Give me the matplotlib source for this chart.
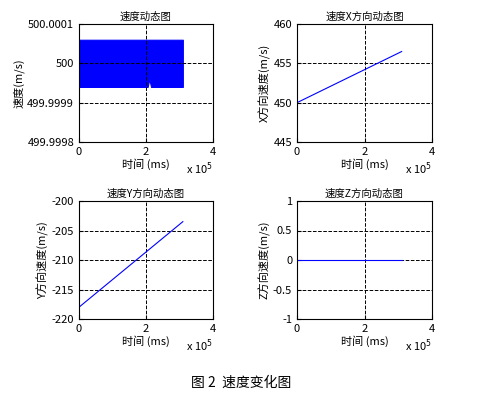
import matplotlib
matplotlib.use("Agg")
import matplotlib.pyplot as plt

plt.rcParams["font.family"] = ["Noto Sans CJK SC", "DejaVu Sans"]
plt.rcParams["axes.unicode_minus"] = False

# data (x in units of 1e5 ms)
t_end = [0.0, 3.1]
vx = [450.0, 456.5]
vy = [-218.0, -203.5]
vz = [0.0, 0.0]
# speed envelope of the noisy band
band_t = [0.0, 2.05, 2.1, 2.15, 3.1]
band_hi = [500.00006, 500.00006, 500.00006, 500.00006, 500.00006]
band_lo = [499.99994, 499.99994, 499.99996, 499.99994, 499.99994]

fig = plt.figure(figsize=(4.83, 4.07), dpi=100)
W, H = 483, 407


def make_ax(x0, y0, x1, y1):
    return fig.add_axes([x0 / W, 1 - y1 / H, (x1 - x0) / W, (y1 - y0) / H])


def style(ax, title, ylabel, yticks, ylim, ylabels=None):
    ax.set_xlim(0, 4)
    ax.set_xticks([0, 2, 4])
    ax.set_ylim(*ylim)
    ax.set_yticks(yticks)
    if ylabels:
        ax.set_yticklabels(ylabels)
    ax.tick_params(labelsize=8, direction="in", length=3)
    ax.grid(True, color="black", linestyle="--", linewidth=0.7)
    ax.set_title(title, fontsize=7.5, pad=3)
    ax.set_ylabel(ylabel, fontsize=8, labelpad=2)
    ax.set_xlabel("时间 (ms)", fontsize=8, labelpad=1)
    ax.text(0.8, -0.16, "x 10$^5$", transform=ax.transAxes, fontsize=8,
            va="top", ha="left")


ax1 = make_ax(79, 24, 213, 142)
ax1.fill_between(band_t, band_lo, band_hi, color="#0000ff", linewidth=0.8,
                 edgecolor="#0000ff")
style(ax1, "速度动态图", "速度(m/s)",
      [499.9998, 499.9999, 500.0, 500.0001], (499.9998, 500.0001),
      ["499.9998", "499.9999", "500", "500.0001"])

ax2 = make_ax(297, 24, 432, 142)
ax2.plot(t_end, vx, color="#0000ff", linewidth=0.8)
style(ax2, "速度X方向动态图", "X方向速度(m/s)", [445, 450, 455, 460], (445, 460))

ax3 = make_ax(79, 201, 213, 319)
ax3.plot(t_end, vy, color="#0000ff", linewidth=0.8)
style(ax3, "速度Y方向动态图", "Y方向速度(m/s)",
      [-220, -215, -210, -205, -200], (-220, -200))

ax4 = make_ax(297, 201, 432, 319)
ax4.plot(t_end, vz, color="#0000ff", linewidth=0.8)
style(ax4, "速度Z方向动态图", "Z方向速度(m/s)",
      [-1, -0.5, 0, 0.5, 1], (-1, 1), ["-1", "-0.5", "0", "0.5", "1"])

fig.text(0.5, 1 - 383 / H, "图 2  速度变化图", ha="center", va="center",
         fontsize=10)

fig.savefig("out.png", dpi=100)
